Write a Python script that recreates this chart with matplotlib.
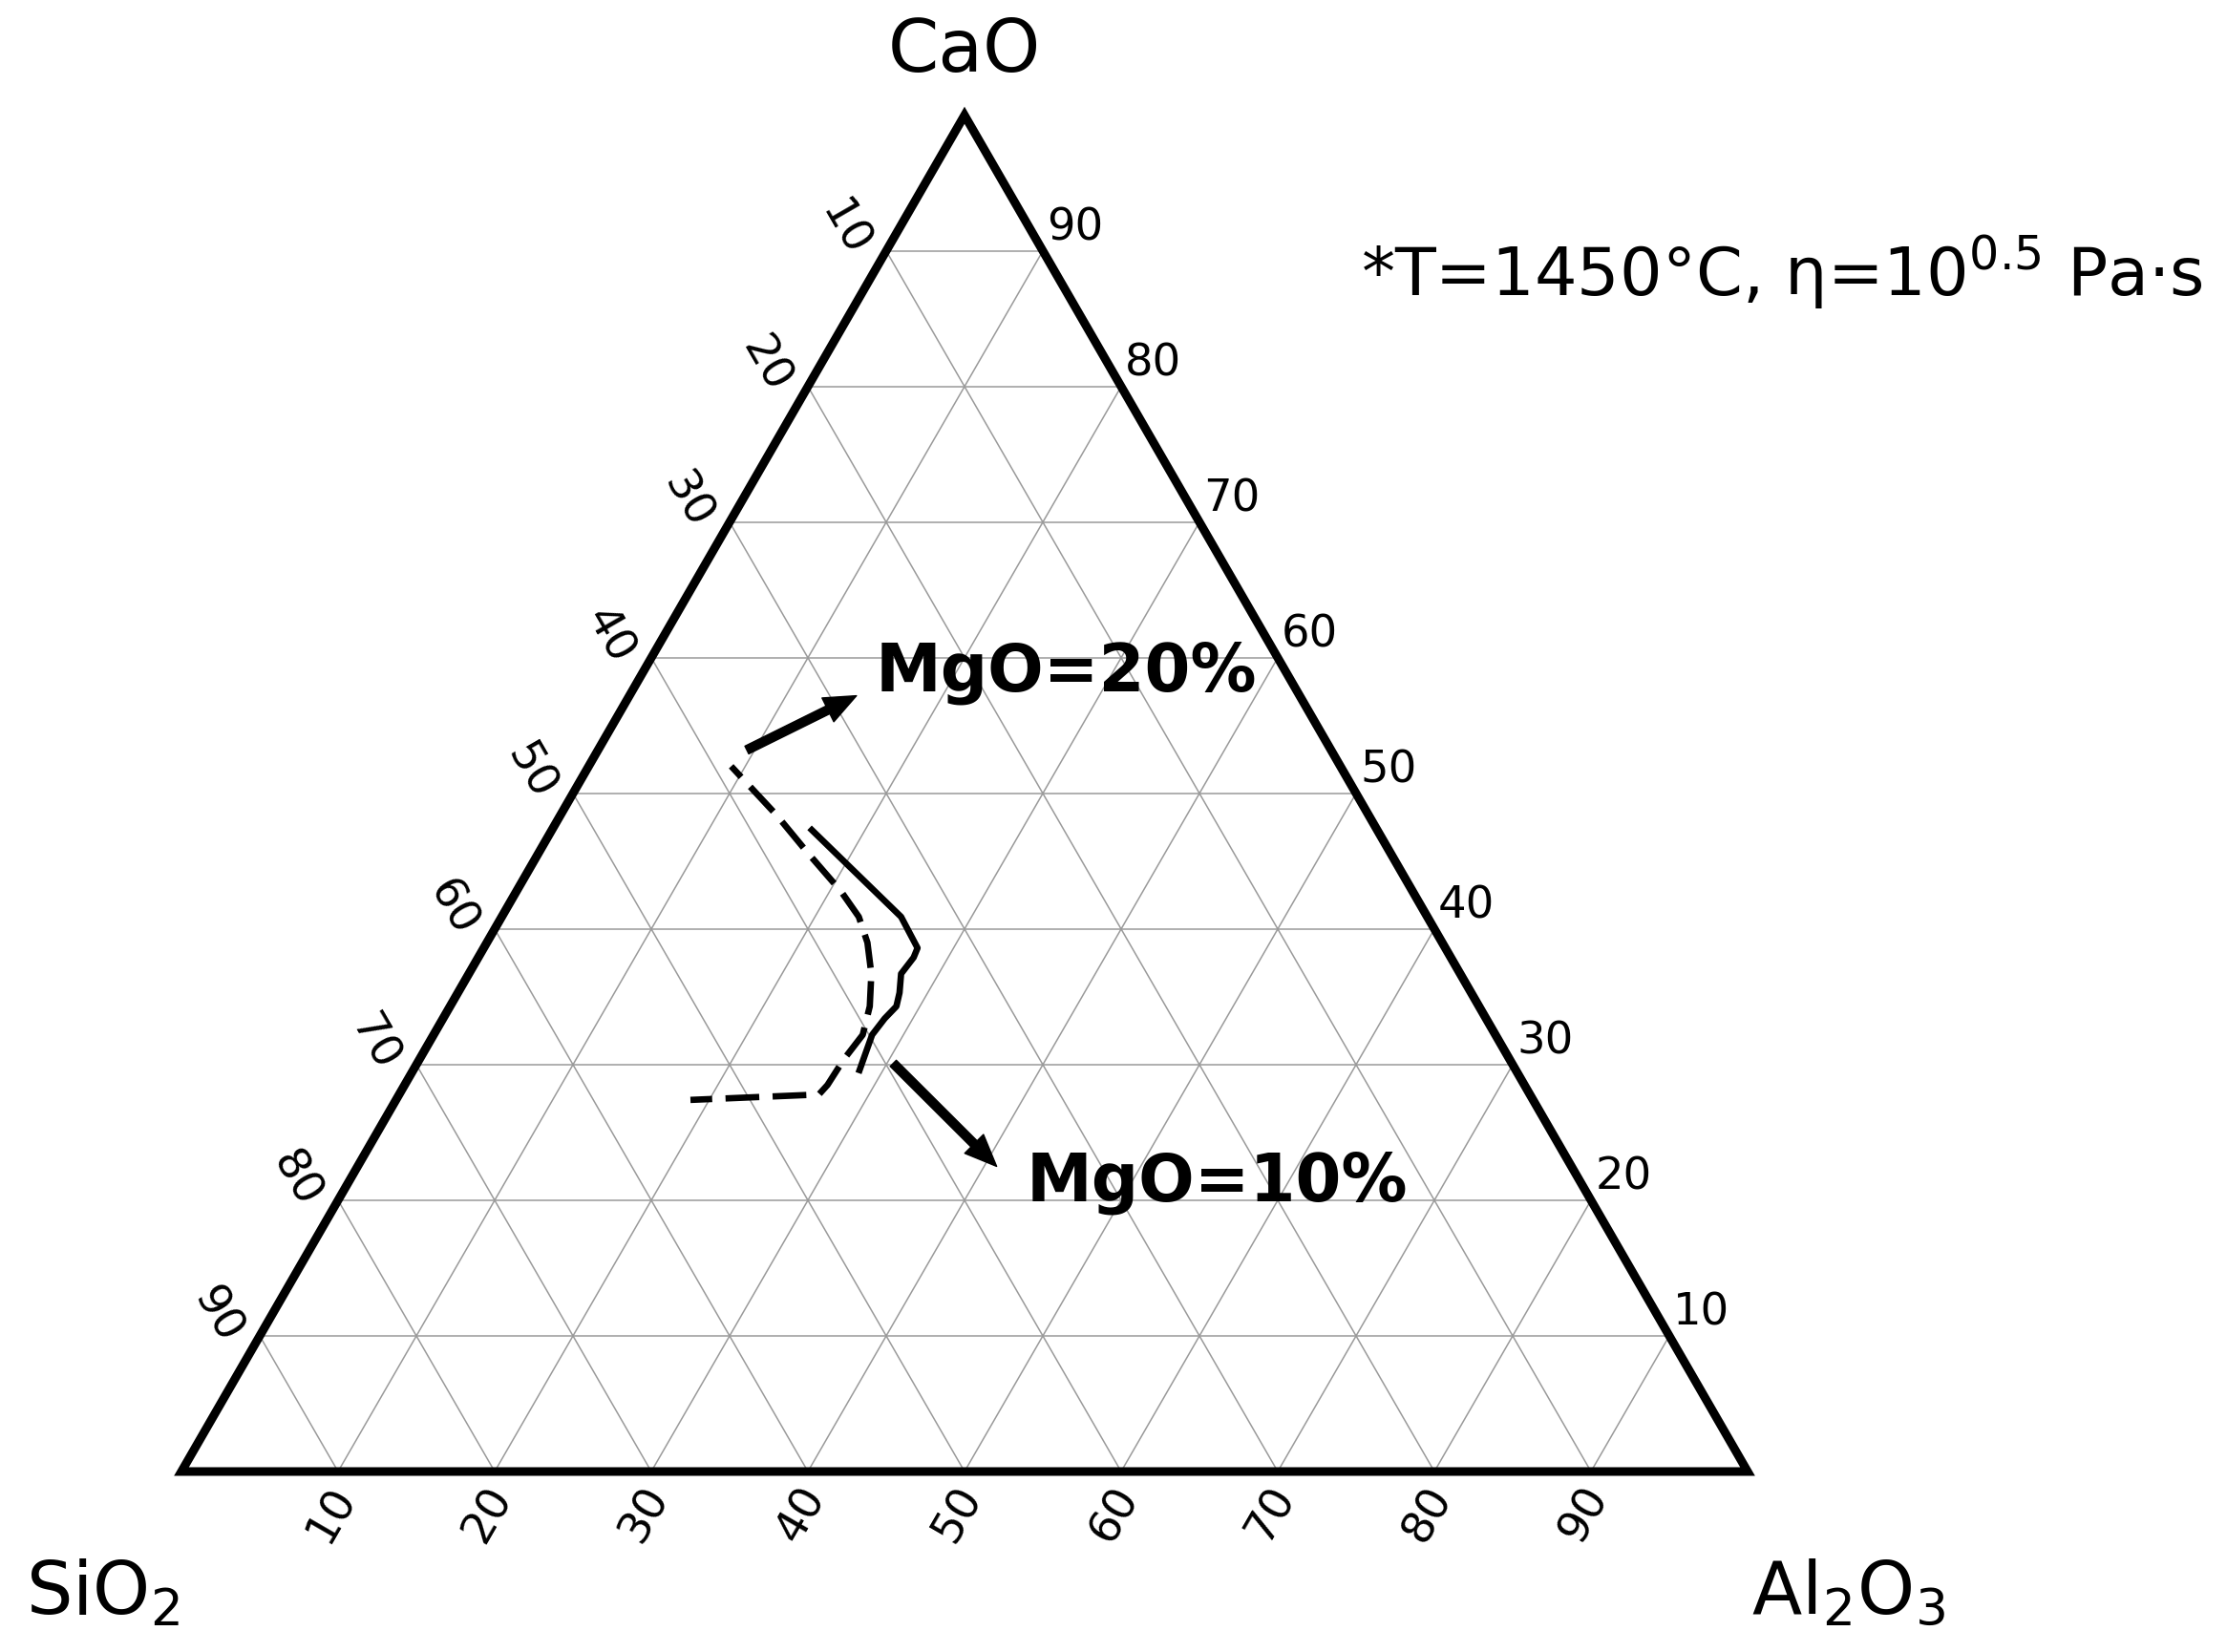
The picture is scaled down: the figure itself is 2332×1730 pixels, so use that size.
import numpy as np
import matplotlib
matplotlib.use("Agg")
import matplotlib.pyplot as plt
from matplotlib.patches import Polygon

# ---------------- data (wt.% on the CaO-SiO2-Al2O3 ternary) ----------------
ticks = [10, 20, 30, 40, 50, 60, 70, 80, 90]

# dashed curve
dash_CaO   = [52.0, 48.4, 45.6, 42.8, 40.9, 39.0, 36.7, 34.3, 32.2, 30.4, 28.5, 27.8, 27.4]
dash_Al2O3 = [9.1, 13.8, 17.2, 20.7, 22.8, 24.3, 25.7, 26.8, 27.4, 27.1, 27.0, 26.8, 18.8]

# solid curve
solid_CaO   = [47.3, 40.9, 38.6, 37.9, 36.7, 35.3, 34.3, 33.4, 32.2, 29.6]
solid_Al2O3 = [16.6, 25.5, 27.7, 27.8, 27.6, 28.2, 28.5, 28.2, 28.0, 28.5]

# arrows (tail -> head)
arrow20_CaO   = [53.2, 57.2]
arrow20_Al2O3 = [9.5, 14.5]
arrow10_CaO   = [30.1, 22.5]
arrow10_Al2O3 = [30.4, 40.8]

label20 = "MgO=20%"
label10 = "MgO=10%"
note = r"*T=1450°C, η=10$^{0.5}$ Pa·s"

H = np.sqrt(3) / 2


def tern(cao, al2o3):
    cao = np.asarray(cao, float)
    al2o3 = np.asarray(al2o3, float)
    return al2o3 + cao / 2.0, cao * H


fig = plt.figure(figsize=(23.32, 17.30), dpi=100)
ax = fig.add_axes([0, 0, 1, 1])
ax.set_xlim(-190 / 16.4, (2332 - 190) / 16.4)
ax.set_ylim((1541 - 1730) / 16.4, 1541 / 16.4)
ax.axis("off")

# grid
gc = "#9a9a9a"
for v in ticks:
    x, y = tern([v, v], [0, 100 - v])
    ax.plot(x, y, color=gc, lw=1.1, zorder=1)
    x, y = tern([0, 100 - v], [v, v])
    ax.plot(x, y, color=gc, lw=1.1, zorder=1)
    x, y = tern([0, 100 - v], [100 - v, 0])
    ax.plot(x, y, color=gc, lw=1.1, zorder=1)

# triangle border
x, y = tern([0, 0, 100], [0, 100, 0])
ax.add_patch(Polygon(np.column_stack([x, y]), closed=True, fill=False,
                     edgecolor="black", lw=6.5, joinstyle="miter", zorder=3))

# tick labels
tfs = 33.5
for v in ticks:
    x, y = tern(v, 100 - v)
    ax.annotate(str(v), (x, y), xytext=(3, 1), textcoords="offset points",
                ha="left", va="bottom", fontsize=tfs)
    x, y = tern(0, v)
    ax.annotate(str(v), (x, y), xytext=(-5, -32), textcoords="offset points",
                ha="center", va="center", rotation=60, fontsize=tfs)
    x, y = tern(100 - v, 0)
    ax.annotate(str(v), (x, y), xytext=(-32, 16), textcoords="offset points",
                ha="center", va="center", rotation=-60, fontsize=tfs)

# vertex labels
ax.text(50, (1541 - 75) / 16.4, "CaO", ha="center", va="baseline", fontsize=55)
ax.text((27 - 190) / 16.4, (1541 - 1690) / 16.4, r"SiO$_2$", ha="left", va="baseline", fontsize=55)
ax.text((1834 - 190) / 16.4, (1541 - 1690) / 16.4, r"Al$_2$O$_3$", ha="left", va="baseline", fontsize=55)

# curves
x, y = tern(dash_CaO, dash_Al2O3)
ax.plot(x, y, color="black", lw=4.8, linestyle=(3, (5.3, 2.1)), zorder=4)
x, y = tern(solid_CaO, solid_Al2O3)
ax.plot(x, y, color="black", lw=4.8, zorder=4)

# arrows
for cs, als in [(arrow20_CaO, arrow20_Al2O3), (arrow10_CaO, arrow10_Al2O3)]:
    x, y = tern(cs, als)
    ax.annotate("", xy=(x[1], y[1]), xytext=(x[0], y[0]),
                arrowprops=dict(width=6.5, headwidth=20, headlength=24,
                                shrink=0, facecolor="black", edgecolor="black"),
                zorder=5)

# labels
ax.text((917 - 190) / 16.4, (1541 - 723) / 16.4, label20, ha="left", va="baseline",
        fontsize=49.7, fontweight="bold")
ax.text((1075 - 190) / 16.4, (1541 - 1258) / 16.4, label10, ha="left", va="baseline",
        fontsize=49.7, fontweight="bold")
ax.text((1425 - 190) / 16.4, (1541 - 310) / 16.4, note, ha="left", va="baseline",
        fontsize=50.5)

fig.savefig("out.png", dpi=100, facecolor="white")
